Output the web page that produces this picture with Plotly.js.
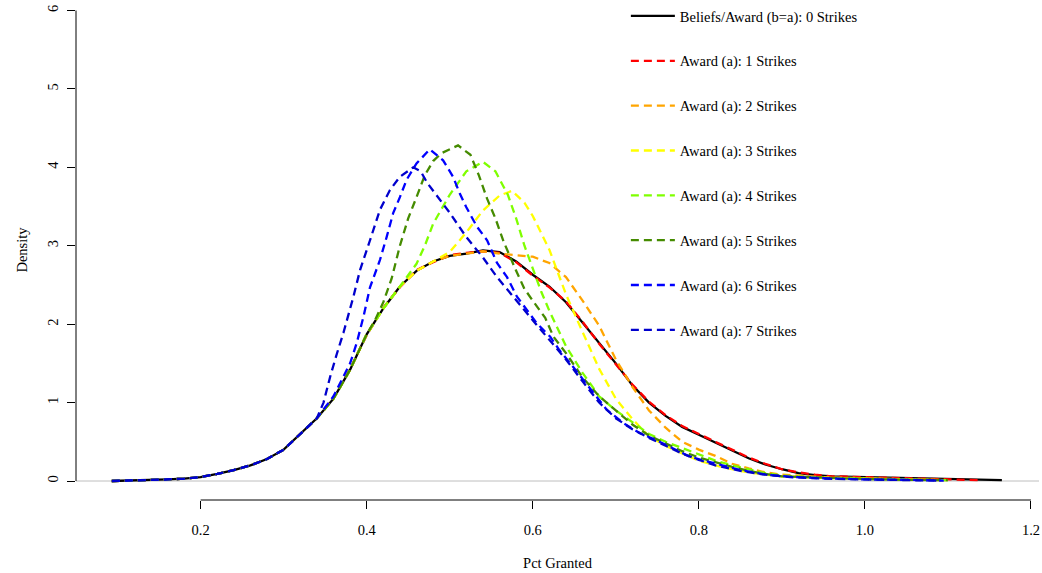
<!DOCTYPE html>
<html>
<head>
<meta charset="utf-8">
<script src="https://cdn.plot.ly/plotly-3.0.1.min.js"></script>
<style>html,body{margin:0;padding:0;background:#fff;}#chart{width:1042px;height:573px;}</style>
</head>
<body>
<div id="chart"></div>
<script>
// ---- data ----
const seriesNames = [
  "Beliefs/Award (b=a): 0 Strikes",
  "Award (a): 1 Strikes",
  "Award (a): 2 Strikes",
  "Award (a): 3 Strikes",
  "Award (a): 4 Strikes",
  "Award (a): 5 Strikes",
  "Award (a): 6 Strikes",
  "Award (a): 7 Strikes"
];
const seriesColors = ["#000000","#FF0000","#FFA500","#FFFF00","#7FFF00","#458B00","#0000FF","#0000CD"];

const xTickVals = [0.2, 0.4, 0.6, 0.8, 1.0, 1.2];
const xTickText = ["0.2", "0.4", "0.6", "0.8", "1.0", "1.2"];
const yTickVals = [0, 1, 2, 3, 4, 5, 6];

// common left part (all curves share it until they diverge)
const xBase = [0.093, 0.12, 0.14, 0.16, 0.18, 0.2, 0.22, 0.24, 0.26, 0.28, 0.3, 0.32, 0.34];
const yBase = [0.0, 0.005, 0.01, 0.02, 0.03, 0.05, 0.09, 0.14, 0.2, 0.28, 0.4, 0.6, 0.8];

const x0 = [0.36, 0.38, 0.4, 0.42, 0.44, 0.46, 0.48, 0.5, 0.52, 0.54, 0.56, 0.58, 0.6, 0.62, 0.64, 0.66, 0.68, 0.7, 0.72, 0.74, 0.76, 0.78, 0.8, 0.82, 0.84, 0.86, 0.88, 0.9, 0.92, 0.94, 0.96, 0.98, 1.0, 1.03, 1.06, 1.09, 1.12, 1.165];
const y0 = [1.05, 1.42, 1.87, 2.2, 2.48, 2.68, 2.8, 2.87, 2.9, 2.94, 2.92, 2.8, 2.63, 2.48, 2.28, 2.02, 1.76, 1.5, 1.22, 1.0, 0.83, 0.69, 0.59, 0.49, 0.38, 0.29, 0.21, 0.15, 0.1, 0.075, 0.06, 0.055, 0.05, 0.045, 0.04, 0.03, 0.02, 0.01];

const x1 = [0.36, 0.38, 0.4, 0.42, 0.44, 0.46, 0.48, 0.5, 0.52, 0.54, 0.56, 0.58, 0.6, 0.62, 0.64, 0.66, 0.68, 0.7, 0.72, 0.74, 0.76, 0.78, 0.8, 0.82, 0.84, 0.86, 0.88, 0.9, 0.92, 0.94, 0.96, 0.98, 1.0, 1.03, 1.06, 1.09, 1.14];
const y1 = [1.06, 1.43, 1.86, 2.21, 2.47, 2.69, 2.79, 2.88, 2.91, 2.93, 2.91, 2.79, 2.62, 2.47, 2.29, 2.03, 1.75, 1.49, 1.23, 1.01, 0.84, 0.7, 0.6, 0.5, 0.39, 0.3, 0.22, 0.15, 0.11, 0.08, 0.06, 0.055, 0.05, 0.045, 0.035, 0.03, 0.01];

const x2 = [0.36, 0.38, 0.4, 0.42, 0.44, 0.46, 0.48, 0.5, 0.52, 0.54, 0.56, 0.58, 0.6, 0.62, 0.64, 0.66, 0.68, 0.7, 0.72, 0.74, 0.76, 0.78, 0.8, 0.82, 0.84, 0.86, 0.88, 0.9, 0.92, 0.95, 1.0, 1.05, 1.1];
const y2 = [1.05, 1.42, 1.87, 2.2, 2.48, 2.68, 2.8, 2.87, 2.9, 2.93, 2.9, 2.88, 2.86, 2.78, 2.6, 2.3, 1.98, 1.55, 1.2, 0.9, 0.68, 0.5, 0.4, 0.32, 0.22, 0.16, 0.11, 0.08, 0.065, 0.05, 0.035, 0.02, 0.01];

const x3 = [0.36, 0.38, 0.4, 0.42, 0.44, 0.46, 0.48, 0.5, 0.52, 0.54, 0.56, 0.575, 0.59, 0.6, 0.62, 0.64, 0.66, 0.68, 0.7, 0.72, 0.74, 0.76, 0.78, 0.8, 0.82, 0.84, 0.86, 0.88, 0.9, 0.95, 1.0, 1.05, 1.1];
const y3 = [1.05, 1.42, 1.87, 2.2, 2.48, 2.68, 2.8, 2.92, 3.17, 3.45, 3.64, 3.7, 3.55, 3.38, 2.95, 2.38, 1.9, 1.43, 1.05, 0.79, 0.57, 0.45, 0.35, 0.26, 0.2, 0.15, 0.11, 0.08, 0.06, 0.04, 0.03, 0.02, 0.01];

const x4 = [0.36, 0.38, 0.4, 0.42, 0.44, 0.45, 0.46, 0.47, 0.48, 0.5, 0.52, 0.54, 0.555, 0.57, 0.58, 0.59, 0.6, 0.61, 0.62, 0.64, 0.66, 0.68, 0.7, 0.72, 0.74, 0.76, 0.78, 0.8, 0.82, 0.84, 0.86, 0.88, 0.9, 0.95, 1.0, 1.05, 1.1];
const y4 = [1.05, 1.42, 1.87, 2.2, 2.48, 2.62, 2.77, 3.0, 3.28, 3.65, 3.95, 4.07, 3.95, 3.65, 3.35, 3.0, 2.7, 2.42, 2.17, 1.72, 1.38, 1.08, 0.9, 0.75, 0.6, 0.5, 0.42, 0.33, 0.26, 0.2, 0.15, 0.1, 0.07, 0.04, 0.03, 0.02, 0.01];

const x5 = [0.36, 0.38, 0.4, 0.41, 0.42, 0.43, 0.44, 0.45, 0.46, 0.47, 0.48, 0.49, 0.51, 0.525, 0.535, 0.545, 0.555, 0.565, 0.58, 0.59, 0.6, 0.615, 0.625, 0.64, 0.66, 0.68, 0.7, 0.72, 0.74, 0.76, 0.78, 0.8, 0.82, 0.84, 0.86, 0.88, 0.9, 0.95, 1.0, 1.05, 1.1];
const y5 = [1.05, 1.42, 1.87, 2.05, 2.28, 2.58, 3.0, 3.35, 3.62, 3.9, 4.08, 4.18, 4.28, 4.16, 3.9, 3.6, 3.35, 3.05, 2.68, 2.45, 2.3, 2.08, 1.84, 1.63, 1.32, 1.08, 0.9, 0.72, 0.58, 0.48, 0.38, 0.3, 0.24, 0.18, 0.13, 0.09, 0.06, 0.04, 0.025, 0.015, 0.01];

const x6 = [0.36, 0.37, 0.38, 0.388, 0.396, 0.404, 0.416, 0.424, 0.432, 0.44, 0.448, 0.46, 0.476, 0.492, 0.504, 0.512, 0.52, 0.533, 0.545, 0.557, 0.569, 0.581, 0.593, 0.605, 0.621, 0.632, 0.649, 0.661, 0.673, 0.689, 0.709, 0.729, 0.749, 0.769, 0.789, 0.817, 0.85, 0.882, 0.914, 0.95, 1.0, 1.05, 1.095];
const y6 = [1.08, 1.3, 1.5, 1.76, 2.09, 2.47, 2.82, 3.11, 3.42, 3.62, 3.84, 4.05, 4.23, 4.09, 3.88, 3.67, 3.49, 3.24, 3.07, 2.78, 2.6, 2.35, 2.18, 2.01, 1.84, 1.67, 1.45, 1.29, 1.12, 0.91, 0.74, 0.61, 0.52, 0.42, 0.31, 0.23, 0.14, 0.08, 0.05, 0.035, 0.02, 0.015, 0.005];

const x7 = [0.348, 0.356, 0.364, 0.372, 0.384, 0.392, 0.404, 0.416, 0.428, 0.44, 0.456, 0.465, 0.473, 0.488, 0.5, 0.52, 0.54, 0.557, 0.58, 0.6, 0.62, 0.64, 0.66, 0.68, 0.7, 0.72, 0.74, 0.76, 0.78, 0.8, 0.82, 0.85, 0.88, 0.91, 0.95, 1.0, 1.05, 1.09];
const y7 = [1.0, 1.33, 1.62, 1.89, 2.35, 2.69, 3.07, 3.46, 3.71, 3.88, 4.0, 3.95, 3.8, 3.58, 3.42, 3.11, 2.85, 2.6, 2.3, 2.05, 1.8, 1.55, 1.27, 1.0, 0.8, 0.66, 0.55, 0.45, 0.35, 0.27, 0.2, 0.13, 0.08, 0.05, 0.03, 0.02, 0.01, 0.005];

const seriesX = [x0, x1, x2, x3, x4, x5, x6, x7];
const seriesY = [y0, y1, y2, y3, y4, y5, y6, y7];

// ---- build traces ----
const FONT = "Liberation Serif, Times New Roman, serif";
const traces = seriesX.map((xs, i) => ({
  type: "scatter",
  mode: "lines",
  name: seriesNames[i],
  legendgroup: "g" + i,
  x: xBase.concat(xs),
  y: yBase.concat(seriesY[i]),
  line: {color: seriesColors[i], width: 2.3, dash: i === 0 ? "solid" : "8px,5px"},
  hoverinfo: "x+y+name"
}));

const layout = {
  width: 1042,
  height: 573,
  margin: {l: 76, r: 3, t: 0, b: 73, pad: 0},
  paper_bgcolor: "#ffffff",
  plot_bgcolor: "#ffffff",
  font: {family: FONT, size: 14.5, color: "#000000"},
  showlegend: true,
  legend: {
    x: 0.571, y: 1.0, xanchor: "left", yanchor: "top",
    bgcolor: "rgba(0,0,0,0)", borderwidth: 0,
    tracegroupgap: 23, itemwidth: 44,
    font: {family: FONT, size: 14.5, color: "#000000"}
  },
  xaxis: {
    range: [0.0499, 1.2097],
    tickvals: xTickVals, ticktext: xTickText,
    ticks: "outside", ticklen: 8, tickwidth: 1, tickcolor: "#000",
    ticklabelstandoff: 9,
    showline: false, zeroline: false, showgrid: false,
    title: {text: "Pct Granted", standoff: 20, font: {family: FONT, size: 14.5}},
    automargin: false
  },
  yaxis: {
    range: [-0.2423, 6.134],
    tickvals: yTickVals,
    ticks: "outside", ticklen: 8, tickwidth: 1, tickcolor: "#000",
    tickangle: -90, ticklabelstandoff: 3,
    showline: false, zeroline: false, showgrid: false,
    title: {text: "Density", standoff: 14, font: {family: FONT, size: 14.5}},
    automargin: false
  },
  shapes: [
    {type: "line", xref: "paper", yref: "y", x0: 0, x1: 1, y0: 0, y1: 0, line: {color: "#BEBEBE", width: 1}, layer: "below"},
    {type: "line", xref: "x", yref: "paper", x0: xTickVals[0], x1: xTickVals[xTickVals.length - 1], y0: 0, y1: 0, line: {color: "#000", width: 1}},
    {type: "line", xref: "paper", yref: "y", x0: 0, x1: 0, y0: yTickVals[0], y1: yTickVals[yTickVals.length - 1], line: {color: "#000", width: 1}}
  ]
};

Plotly.newPlot("chart", traces, layout, {displayModeBar: false, staticPlot: true});
</script>
</body>
</html>
